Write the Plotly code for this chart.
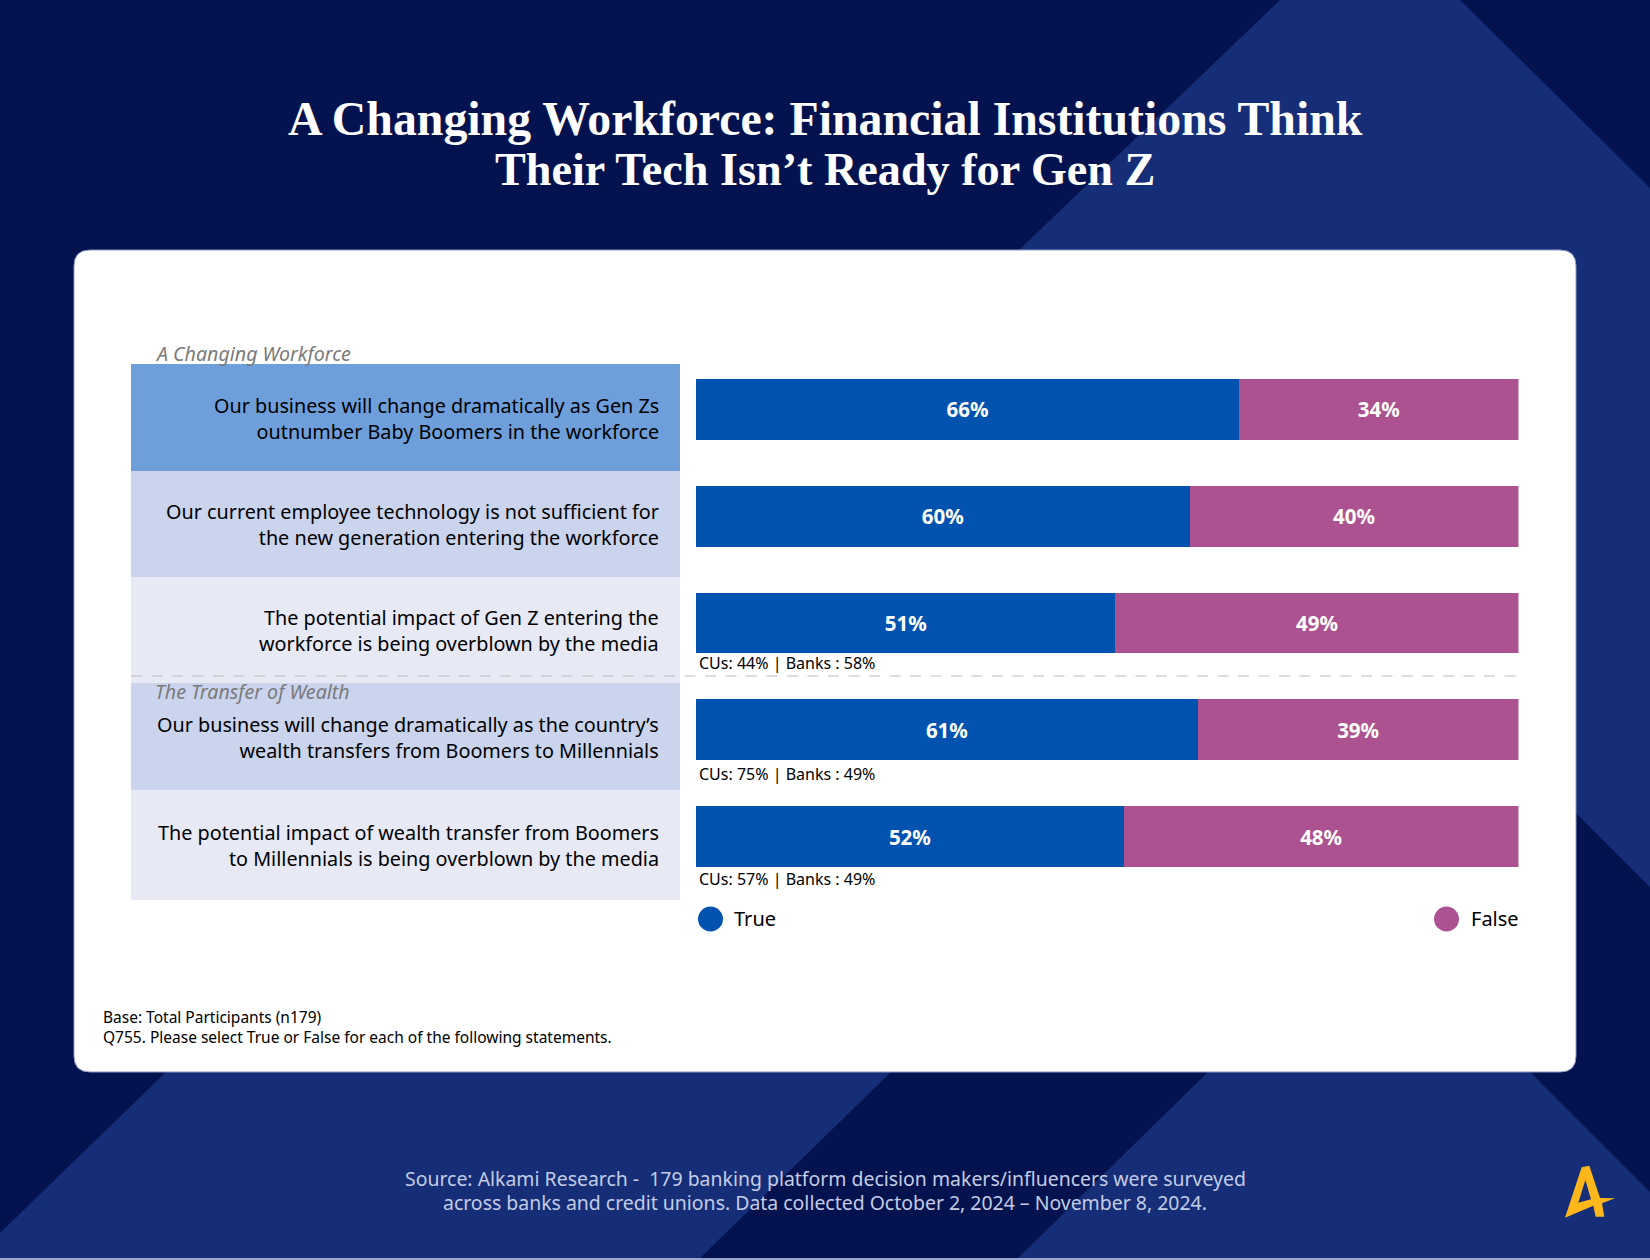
"""A Changing Workforce: True/False stacked bars on a card over the dark brand background."""

import plotly.graph_objects as go

WIDTH = 1650
HEIGHT = 1260

TITLE_LINES = [
    "A Changing Workforce: Financial Institutions Think",
    "Their Tech Isn’t Ready for Gen Z",
]
SOURCE_LINES = [
    "Source: Alkami Research -  179 banking platform decision makers/influencers were surveyed",
    "across banks and credit unions. Data collected October 2, 2024 – November 8, 2024.",
]
FOOTNOTE = "Base: Total Participants (n179)<br>Q755. Please select True or False for each of the following statements."

STATEMENTS = [
    "Our business will change dramatically as Gen Zs<br>outnumber Baby Boomers in the workforce",
    "Our current employee technology is not sufficient for<br>the new generation entering the workforce",
    "The potential impact of Gen Z entering the<br>workforce is being overblown by the media",
    "Our business will change dramatically as the country’s<br>wealth transfers from Boomers to Millennials",
    "The potential impact of wealth transfer from Boomers<br>to Millennials is being overblown by the media",
]
TRUE_PCT = [66, 60, 51, 61, 52]
FALSE_PCT = [34, 40, 49, 39, 48]
CU_NOTES = [
    None,
    None,
    "CUs: 44% | Banks : 58%",
    "CUs: 75% | Banks : 49%",
    "CUs: 57% | Banks : 49%",
]
SECTIONS = ["A Changing Workforce", "The Transfer of Wealth"]

NAVY = "#04134F"
BAND = "#162E78"
BLUE = "#0253B0"
PURPLE = "#AC5290"
ROW_COLORS = ["#6E9FDB", "#CAD4ED", "#E7E9F5", "#CAD4ED", "#E7E9F5"]
ROW_EDGES = [364, 471, 577, 683, 790, 900]
LABEL_SHIFTS = [-9, -8, -7, -7.5, -9]
NOTE_SHIFTS = [0, 0, -40, -44, -42]

TEXT_FONT = "Noto Sans"
SERIF = "Liberation Serif"


def px(x):
    return x / WIDTH


def py(y):
    return 1 - y / HEIGHT


def poly(points, color):
    path = "M " + " L ".join(f"{px(x):.5f},{py(y):.5f}" for x, y in points) + " Z"
    return dict(type="path", xref="paper", yref="paper", path=path,
                fillcolor=color, line_width=0, layer="below")


def rect(x0, y0, x1, y1, color):
    return dict(type="rect", xref="paper", yref="paper", x0=px(x0), x1=px(x1),
                y0=py(y0), y1=py(y1), fillcolor=color, line_width=0, layer="below")


def round_card(x0, y0, x1, y1, r):
    path = (
        f"M {px(x0 + r)},{py(y0)} L {px(x1 - r)},{py(y0)} Q {px(x1)},{py(y0)} {px(x1)},{py(y0 + r)} "
        f"L {px(x1)},{py(y1 - r)} Q {px(x1)},{py(y1)} {px(x1 - r)},{py(y1)} "
        f"L {px(x0 + r)},{py(y1)} Q {px(x0)},{py(y1)} {px(x0)},{py(y1 - r)} "
        f"L {px(x0)},{py(y0 + r)} Q {px(x0)},{py(y0)} {px(x0 + r)},{py(y0)} Z"
    )
    return dict(type="path", xref="paper", yref="paper", path=path, fillcolor="white",
                line=dict(color="#8E9AC4", width=1), layer="below")


def text(x, y, s, size, color="black", anchor="center", font=TEXT_FONT, **kw):
    return dict(xref="paper", yref="paper", x=px(x), y=py(y), text=s, showarrow=False,
                xanchor=anchor, yanchor="middle", align=anchor,
                font=dict(family=font, size=size, color=color, **kw))


# background bands, card, row panels
shapes = [
    poly([(1280, 0), (1460, 0), (1650, 188), (1650, 887), (1300, 537), (1019, 250)], BAND),
    poly([(0, 1233), (166, 1072), (891, 1072), (698, 1260), (0, 1260)], BAND),
    poly([(1208, 1072), (1530, 1072), (1650, 1192), (1650, 1260), (1016, 1260)], BAND),
    rect(0, 1258, WIDTH, 1260, "#9AA6CC"),
    round_card(74, 250, 1576, 1072, 16),
]
for i, color in enumerate(ROW_COLORS):
    shapes.append(rect(131, ROW_EDGES[i], 680, ROW_EDGES[i + 1], color))

shapes.append(dict(type="line", xref="paper", yref="paper", x0=px(131), x1=px(1523),
                   y0=py(676), y1=py(676), line=dict(color="#BDBDBD", width=1, dash="11px,9.5px")))

# legend dots
for cx, color in [(710.5, BLUE), (1446.5, PURPLE)]:
    shapes.append(dict(type="circle", xref="paper", yref="paper", x0=px(cx - 12.5), x1=px(cx + 12.5),
                       y0=py(919 + 12.5), y1=py(919 - 12.5), fillcolor=color, line_width=0))


# logo
def logo_xy(zx, zy):
    return px(1300 + zx / 3), py(1040 + zy / 3)


outer = [(795, 533), (845, 382), (868, 377), (900, 474), (945, 475), (906, 490),
         (913, 530), (887, 530), (880, 497)]
hole = [(856, 420), (873, 478), (835, 488)]
logo_path = ""
for pts in (outer, hole):
    coords = [logo_xy(*p) for p in pts]
    logo_path += "M " + " L ".join(f"{a:.5f},{b:.5f}" for a, b in coords) + " Z "
shapes.append(dict(type="path", xref="paper", yref="paper", path=logo_path,
                   fillcolor="#FDB71A", line_width=0))

fig = go.Figure()
fig.add_trace(go.Bar(
    name="True", y=STATEMENTS, x=TRUE_PCT, orientation="h", width=0.571,
    marker=dict(color=BLUE, line_width=0),
    texttemplate="%{x}%", textposition="inside", insidetextanchor="middle",
    textangle=0, constraintext="none",
    textfont=dict(family=TEXT_FONT, size=20.5, color="white", weight="bold"),
))
fig.add_trace(go.Bar(
    name="False", y=STATEMENTS, x=FALSE_PCT, orientation="h", width=0.571,
    marker=dict(color=PURPLE, line_width=0),
    texttemplate="%{x}%", textposition="inside", insidetextanchor="middle",
    textangle=0, constraintext="none",
    textfont=dict(family=TEXT_FONT, size=20.5, color="white", weight="bold"),
))

annotations = [
    text(825, 118.5, TITLE_LINES[0], 47.8, "white", font=SERIF, weight="bold"),
    text(825, 169.5, TITLE_LINES[1], 46.2, "white", font=SERIF, weight="bold"),
    text(825, 1178, SOURCE_LINES[0], 19.45, "#C4CCE6"),
    text(825, 1202, SOURCE_LINES[1], 19.45, "#C4CCE6"),
    text(101, 1027, FOOTNOTE, 15.5, anchor="left"),
    text(153, 353, SECTIONS[0], 19.6, "#7A7A7A", anchor="left", style="italic"),
    text(153, 691, SECTIONS[1], 19.6, "#7A7A7A", anchor="left", style="italic"),
    text(732, 918, "True", 20, anchor="left"),
    text(1521, 918, "False", 20, anchor="right"),
]
for statement, note, label_shift, shift in zip(STATEMENTS, CU_NOTES, LABEL_SHIFTS, NOTE_SHIFTS):
    annotations.append(dict(
        xref="paper", yref="y", x=px(661), y=statement, yshift=label_shift, text=statement,
        showarrow=False, xanchor="right", align="right",
        font=dict(family=TEXT_FONT, size=19.8, color="black"),
    ))
    if note:
        annotations.append(dict(
            xref="x", yref="y", x=0, y=statement, xshift=1, yshift=shift, text=note,
            showarrow=False, xanchor="left",
            font=dict(family=TEXT_FONT, size=16, color="black"),
        ))

fig.update_layout(
    width=WIDTH, height=HEIGHT, barmode="stack", showlegend=False,
    margin=dict(l=0, r=0, t=0, b=0),
    paper_bgcolor=NAVY, plot_bgcolor="rgba(0,0,0,0)",
    xaxis=dict(domain=[px(696), px(1518.5)], range=[0, 100], visible=False),
    yaxis=dict(domain=[py(890), py(356)], autorange="reversed", visible=False),
    shapes=shapes, annotations=annotations,
)

fig.write_html("out.html", post_script="document.body.style.margin='0';",
               config=dict(displayModeBar=False))
